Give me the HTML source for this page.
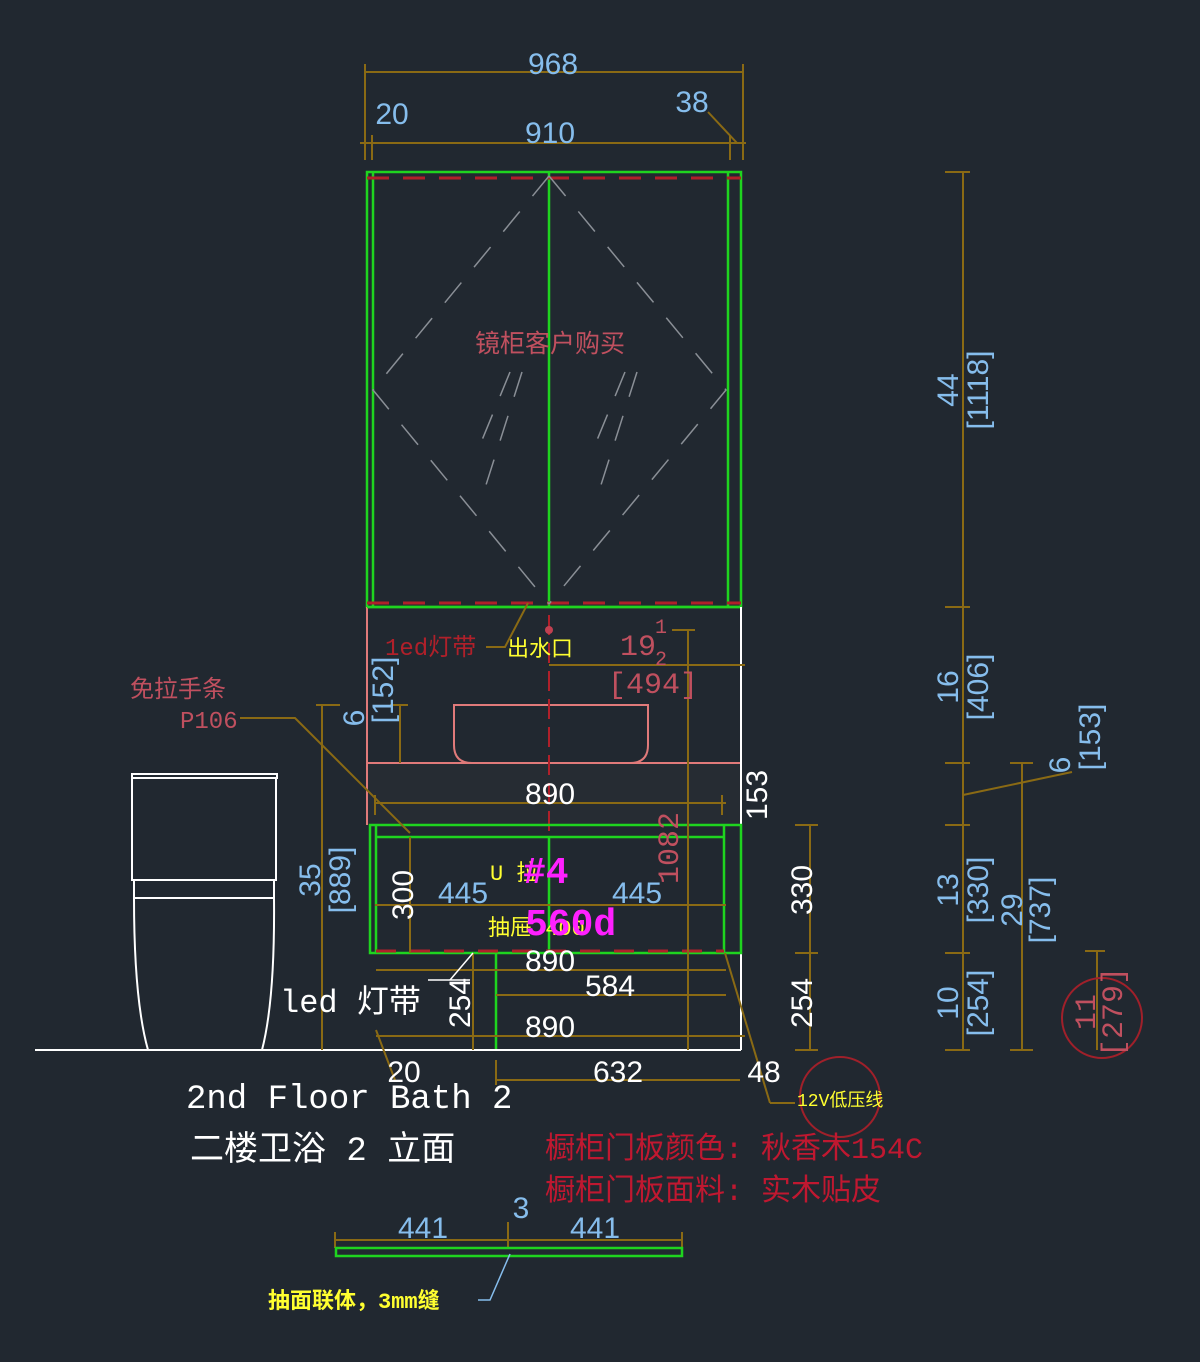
<!DOCTYPE html>
<html><head><meta charset="utf-8"><style>
html,body{margin:0;padding:0;background:#212830;}
svg{display:block}
text{font-family:"Liberation Mono","Noto Sans CJK SC",monospace;}
.b{fill:#86bdec;font-size:30px;font-family:"Liberation Sans",sans-serif}
.w{fill:#fff;font-size:30px;font-family:"Liberation Sans",sans-serif}
.d{stroke:#8a6a14;stroke-width:2;fill:none}
.g{stroke:#1fd41f;stroke-width:2.5;fill:none}
.p{stroke:#e07a7a;stroke-width:2;fill:none}
</style></head><body>
<svg width="1200" height="1362" viewBox="0 0 1200 1362" xmlns="http://www.w3.org/2000/svg">
<rect width="1200" height="1362" fill="#212830"/>
<!-- top dims -->
<g class="d">
<line x1="365" y1="72" x2="743" y2="72"/><line x1="365" y1="64" x2="365" y2="160"/><line x1="743" y1="64" x2="743" y2="160"/>
<line x1="360" y1="143" x2="746" y2="143"/><line x1="372" y1="135" x2="372" y2="160"/><line x1="730" y1="135" x2="730" y2="160"/>
<line x1="708" y1="112" x2="737" y2="143"/>
</g>
<text class="b" x="553" y="74" text-anchor="middle">968</text>
<text class="b" x="392" y="124" text-anchor="middle">20</text>
<text class="b" x="692" y="112" text-anchor="middle">38</text>
<text class="b" x="550" y="143" text-anchor="middle">910</text>
<!-- mirror cabinet -->
<rect x="367" y="172" width="374" height="435" class="g"/>
<line x1="373" y1="172" x2="373" y2="607" class="g"/>
<line x1="728" y1="172" x2="728" y2="607" class="g"/>
<line x1="549" y1="172" x2="549" y2="607" class="g"/>
<line x1="367" y1="178" x2="741" y2="178" stroke="#b0202a" stroke-width="3" stroke-dasharray="22,14"/>
<line x1="367" y1="603" x2="741" y2="603" stroke="#b0202a" stroke-width="3" stroke-dasharray="22,14"/>
<g stroke="#8a8f96" stroke-width="1.5" stroke-dasharray="26,20" fill="none">
<polyline points="549,176 373,390 549,604"/><polyline points="549,176 726,390 549,604"/>
<line x1="522" y1="372" x2="485" y2="488"/><line x1="510" y1="372" x2="480" y2="445"/>
<line x1="637" y1="372" x2="600" y2="488"/><line x1="625" y1="372" x2="595" y2="445"/>
</g>
<text x="550" y="352" fill="#c0505f" font-size="25" text-anchor="middle" font-family="'Noto Serif CJK SC',serif">镜柜客户购买</text>
<!-- vanity -->
<line x1="367" y1="607" x2="367" y2="825" class="p"/>
<line x1="367" y1="763" x2="741" y2="763" class="p"/>
<line x1="367" y1="607" x2="741" y2="607" class="g"/>
<path d="M454 705 H648 V745 Q648 763 630 763 H472 Q454 763 454 745 Z" class="p"/>
<rect x="368" y="764" width="372" height="60" fill="#262c33"/>
<line x1="549" y1="615" x2="549" y2="900" stroke="#b0202a" stroke-width="2" stroke-dasharray="20,8"/>
<circle cx="549" cy="630" r="4" fill="#c04050"/>
<line x1="741" y1="607" x2="741" y2="1050" stroke="#fff" stroke-width="2"/>
<rect x="370" y="825" width="371" height="128" class="g"/>
<line x1="376" y1="837" x2="724" y2="837" class="g"/>
<line x1="376" y1="825" x2="376" y2="953" class="g"/><line x1="724" y1="825" x2="724" y2="953" class="g"/>
<line x1="549" y1="837" x2="549" y2="953" class="g"/>
<line x1="376" y1="951" x2="724" y2="951" stroke="#b0202a" stroke-width="3" stroke-dasharray="20,14"/>
<line x1="496" y1="953" x2="496" y2="1050" class="g"/>
<!-- floor -->
<line x1="35" y1="1050" x2="741" y2="1050" stroke="#fff" stroke-width="2"/>
<!-- toilet -->
<g stroke="#fff" stroke-width="2" fill="none">
<path d="M132 774 H277 V778 H132 Z"/>
<path d="M132 778 V880 H276 V778"/>
<path d="M134 880 V898 H274 V880"/>
<path d="M134 898 Q134 1000 148 1050 H262 Q275 1000 274 898"/>
</g>
<!-- inner dims -->
<g class="d">
<line x1="375" y1="803" x2="726" y2="803"/><line x1="375" y1="795" x2="375" y2="815"/><line x1="722" y1="795" x2="722" y2="815"/>
<line x1="375" y1="905" x2="726" y2="905"/>
<line x1="376" y1="970" x2="726" y2="970"/>
<line x1="496" y1="995" x2="726" y2="995"/>
<line x1="376" y1="1036" x2="745" y2="1036"/>
<line x1="410" y1="837" x2="410" y2="953"/>
<line x1="473" y1="953" x2="473" y2="1050"/>
<line x1="400" y1="705" x2="400" y2="763"/><line x1="390" y1="705" x2="408" y2="705"/>
<line x1="688" y1="630" x2="688" y2="1050"/><line x1="672" y1="630" x2="695" y2="630"/>
<line x1="549" y1="665" x2="745" y2="665"/>
<line x1="322" y1="705" x2="322" y2="1050"/><line x1="316" y1="705" x2="340" y2="705"/>
<line x1="810" y1="825" x2="810" y2="1050"/><line x1="795" y1="825" x2="818" y2="825"/><line x1="795" y1="953" x2="818" y2="953"/><line x1="795" y1="1050" x2="818" y2="1050"/>
<polyline points="240,718 295,718 410,833"/>
<line x1="496" y1="1080" x2="740" y2="1080"/><line x1="496" y1="1060" x2="496" y2="1085"/>
<line x1="376" y1="1030" x2="395" y2="1080"/>
<line x1="725" y1="953" x2="770" y2="1103"/><line x1="770" y1="1103" x2="795" y2="1103"/>
<polyline points="486,647 505,647 528,603"/>
<!-- right dims -->
<line x1="963" y1="172" x2="963" y2="1050"/>
<line x1="945" y1="172" x2="970" y2="172"/><line x1="945" y1="607" x2="970" y2="607"/><line x1="945" y1="763" x2="970" y2="763"/><line x1="945" y1="825" x2="970" y2="825"/><line x1="945" y1="953" x2="970" y2="953"/><line x1="945" y1="1050" x2="970" y2="1050"/>
<line x1="1022" y1="763" x2="1022" y2="1050"/><line x1="1010" y1="763" x2="1033" y2="763"/><line x1="1010" y1="1050" x2="1033" y2="1050"/>
<line x1="963" y1="795" x2="1072" y2="772"/>
<line x1="1097" y1="950" x2="1097" y2="1050"/><line x1="1085" y1="951" x2="1105" y2="951"/>
</g>
<circle cx="1102" cy="1018" r="40" stroke="#a0202a" stroke-width="2" fill="none"/>
<circle cx="840" cy="1097" r="40" stroke="#a0202a" stroke-width="2" fill="none"/>
<!-- texts -->
<text x="385" y="655" fill="#b0202a" font-size="24" font-family="'Noto Serif CJK SC',serif">1ed灯带</text>
<text x="507" y="656" fill="#ffff30" font-size="22" font-family="'Noto Sans CJK SC',sans-serif">出水口</text>
<text x="620" y="655" fill="#c0505f" font-size="30" font-family="'Liberation Sans',sans-serif">19</text>
<text x="655" y="633" fill="#c0505f" font-size="20">1</text><text x="655" y="665" fill="#c0505f" font-size="20">2</text>
<text x="608" y="693" fill="#c0505f" font-size="30" font-family="'Liberation Sans',sans-serif">[494]</text>
<text x="130" y="697" fill="#c0505f" font-size="24" font-family="'Noto Serif CJK SC',serif">免拉手条</text>
<text x="180" y="728" fill="#c0505f" font-size="24" font-family="'Liberation Serif',serif">P106</text>
<text class="w" x="550" y="804" text-anchor="middle">890</text>
<text class="w" x="550" y="971" text-anchor="middle">890</text>
<text class="w" x="610" y="996" text-anchor="middle">584</text>
<text class="w" x="550" y="1037" text-anchor="middle">890</text>
<text class="w" x="618" y="1082" text-anchor="middle">632</text>
<text class="w" x="404" y="1082" text-anchor="middle">20</text>
<text class="w" x="764" y="1082" text-anchor="middle">48</text>
<text class="b" x="463" y="903" text-anchor="middle">445</text>
<text class="b" x="637" y="903" text-anchor="middle">445</text>
<text x="490" y="880" fill="#ffff30" font-size="22">U 拉</text>
<text x="488" y="935" fill="#ffff30" font-size="22" font-family="'Noto Sans CJK SC',sans-serif">抽屉 400</text>
<text x="523" y="883" fill="#ff20ff" font-size="38" font-weight="bold" font-family="'Liberation Sans',sans-serif">#4</text>
<text x="525" y="935" fill="#ff20ff" font-size="38" font-weight="bold" font-family="'Liberation Sans',sans-serif">560d</text>
<text x="280" y="1012" fill="#fff" font-size="32">led 灯带</text>
<line x1="428" y1="980" x2="470" y2="980" stroke="#fff" stroke-width="1.5"/><line x1="450" y1="980" x2="473" y2="953" stroke="#fff" stroke-width="1.5"/>
<text x="186" y="1108" fill="#fff" font-size="34">2nd Floor Bath 2</text>
<text x="190" y="1160" fill="#fff" font-size="34" font-family="'Liberation Mono','Noto Sans CJK SC',monospace">二楼卫浴 2 立面</text>
<text x="545" y="1158" fill="#c01830" font-size="30" font-family="'Noto Sans CJK SC',sans-serif">橱柜门板颜色: 秋香木154C</text>
<text x="545" y="1200" fill="#c01830" font-size="30" font-family="'Noto Sans CJK SC',sans-serif">橱柜门板面料: 实木贴皮</text>
<text x="797" y="1106" fill="#ffff30" font-size="18" font-family="'Noto Serif CJK SC',serif">12V低压线</text>
<!-- rotated -->
<g font-family="'Liberation Sans',sans-serif" font-size="30">
<text class="w" transform="translate(413,895) rotate(-90)" text-anchor="middle">300</text>
<text class="w" transform="translate(470,1003) rotate(-90)" text-anchor="middle">254</text>
<text class="w" transform="translate(812,890) rotate(-90)" text-anchor="middle">330</text>
<text class="w" transform="translate(812,1003) rotate(-90)" text-anchor="middle">254</text>
<text class="w" transform="translate(767,795) rotate(-90)" text-anchor="middle">153</text>
<text transform="translate(678,848) rotate(-90)" text-anchor="middle" fill="#c0505f">1082</text>
<text class="b" transform="translate(393,690) rotate(-90)" text-anchor="middle">[152]</text>
<text class="b" transform="translate(364,718) rotate(-90)" text-anchor="middle">6</text>
<text class="b" transform="translate(320,880) rotate(-90)" text-anchor="middle">35</text>
<text class="b" transform="translate(350,880) rotate(-90)" text-anchor="middle">[889]</text>
<text class="b" transform="translate(958,390) rotate(-90)" text-anchor="middle">44</text>
<text class="b" transform="translate(988,390) rotate(-90)" text-anchor="middle">[1118]</text>
<text class="b" transform="translate(958,687) rotate(-90)" text-anchor="middle">16</text>
<text class="b" transform="translate(988,687) rotate(-90)" text-anchor="middle">[406]</text>
<text class="b" transform="translate(1070,765) rotate(-90)" text-anchor="middle">6</text>
<text class="b" transform="translate(1100,737) rotate(-90)" text-anchor="middle">[153]</text>
<text class="b" transform="translate(958,890) rotate(-90)" text-anchor="middle">13</text>
<text class="b" transform="translate(988,890) rotate(-90)" text-anchor="middle">[330]</text>
<text class="b" transform="translate(1022,910) rotate(-90)" text-anchor="middle">29</text>
<text class="b" transform="translate(1050,910) rotate(-90)" text-anchor="middle">[737]</text>
<text class="b" transform="translate(958,1003) rotate(-90)" text-anchor="middle">10</text>
<text class="b" transform="translate(988,1003) rotate(-90)" text-anchor="middle">[254]</text>
<text transform="translate(1095,1012) rotate(-90)" text-anchor="middle" fill="#c0505f">11</text>
<text transform="translate(1122,1012) rotate(-90)" text-anchor="middle" fill="#c0505f">[279]</text>
</g>
<!-- bottom detail -->
<g class="d"><line x1="335" y1="1240" x2="682" y2="1240"/><line x1="335" y1="1232" x2="335" y2="1248"/><line x1="682" y1="1232" x2="682" y2="1248"/><line x1="508" y1="1222" x2="508" y2="1248"/></g>
<rect x="336" y="1248" width="346" height="8" class="g"/>
<text class="b" x="423" y="1238" text-anchor="middle">441</text>
<text class="b" x="595" y="1238" text-anchor="middle">441</text>
<text class="b" x="521" y="1218" text-anchor="middle" font-size="26">3</text>
<polyline points="478,1300 490,1300 510,1254" stroke="#86bdec" stroke-width="1.5" fill="none"/>
<text x="268" y="1308" fill="#ffff30" font-size="22" font-family="'Noto Serif CJK SC',serif" font-weight="bold">抽面联体，3mm缝</text>
</svg>
</body></html>
